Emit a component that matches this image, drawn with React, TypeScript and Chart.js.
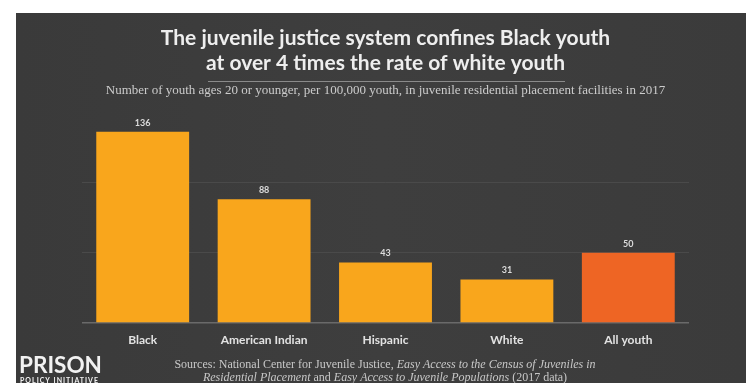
import React, { useEffect, useRef } from "react";
import { Chart, registerables } from "chart.js";

Chart.register(...registerables);

const categories = ["Black", "American Indian", "Hispanic", "White", "All youth"];
const rates = [136, 88, 43, 31, 50];
const barColors = ["#F9A61C", "#F9A61C", "#F9A61C", "#F9A61C", "#EE6524"];
const gridValues = [0, 50, 100];
const titleLines = [
  "The juvenile justice system confines Black youth",
  "at over 4 times the rate of white youth",
];
const subtitleText =
  "Number of youth ages 20 or younger, per 100,000 youth, in juvenile residential placement facilities in 2017";
const sourceLine1 = [
  { t: "Sources: National Center for Juvenile Justice, ", i: false },
  { t: "Easy Access to the Census of Juveniles in", i: true },
];
const sourceLine2 = [
  { t: "Residential Placement", i: true },
  { t: " and ", i: false },
  { t: "Easy Access to Juvenile Populations", i: true },
  { t: " (2017 data)", i: false },
];
const logoMain = "PRISON";
const logoSub = "POLICY INITIATIVE";

const SANS = "Lato, 'DejaVu Sans', sans-serif";
const SERIF = "'Liberation Serif', 'DejaVu Serif', serif";

const backgroundPlugin = {
  id: "bgPanel",
  beforeDraw(chart: any) {
    const { ctx, width, height } = chart;
    ctx.save();
    ctx.fillStyle = "#ffffff";
    ctx.fillRect(0, 0, width, height);
    const g = ctx.createLinearGradient(16, 0, width, 0);
    g.addColorStop(0, "#3a3a3a");
    g.addColorStop(0.5, "#3e3e3e");
    g.addColorStop(1, "#3b3b3b");
    ctx.fillStyle = g;
    ctx.fillRect(16, 13, width - 16, height - 13);
    ctx.restore();
  },
};

const valueLabelPlugin = {
  id: "valueLabels",
  afterDatasetsDraw(chart: any) {
    const { ctx } = chart;
    const meta = chart.getDatasetMeta(0);
    ctx.save();
    ctx.fillStyle = "#dcdcdc";
    ctx.font = `bold 9px ${SANS}`;
    ctx.textAlign = "center";
    ctx.textBaseline = "middle";
    meta.data.forEach((bar: any, idx: number) => {
      ctx.fillText(String(rates[idx]), bar.x, bar.y - 9);
    });
    ctx.restore();
  },
};

const decorPlugin = {
  id: "decor",
  afterDraw(chart: any) {
    const { ctx } = chart;
    ctx.save();
    // rule under title
    ctx.strokeStyle = "#8a8a8a";
    ctx.lineWidth = 1;
    ctx.beginPath();
    ctx.moveTo(208, 81.5);
    ctx.lineTo(565, 81.5);
    ctx.stroke();

    // sources
    const drawLine = (parts: { t: string; i: boolean }[], cx: number, y: number) => {
      const fontFor = (it: boolean) => `${it ? "italic " : ""}12px ${SERIF}`;
      let total = 0;
      parts.forEach((p) => {
        ctx.font = fontFor(p.i);
        total += ctx.measureText(p.t).width;
      });
      let x = cx - total / 2;
      ctx.textAlign = "left";
      ctx.textBaseline = "middle";
      ctx.fillStyle = "#c8c8c8";
      parts.forEach((p) => {
        ctx.font = fontFor(p.i);
        ctx.fillText(p.t, x, y);
        x += ctx.measureText(p.t).width;
      });
    };
    drawLine(sourceLine1, 385, 365);
    drawLine(sourceLine2, 385, 378);

    // logo
    ctx.fillStyle = "#f2f2f2";
    ctx.textAlign = "left";
    ctx.textBaseline = "alphabetic";
    ctx.font = `bold 22.5px ${SANS}`;
    ctx.fillText(logoMain, 19, 373);
    ctx.font = `bold 7px ${SANS}`;
    (ctx as any).letterSpacing = "1px";
    ctx.fillText(logoSub, 20, 383);
    ctx.restore();
  },
};

export default function App() {
  const canvasRef = useRef<HTMLCanvasElement | null>(null);

  useEffect(() => {
    document.body.style.margin = "0";
    const canvas = canvasRef.current;
    if (!canvas) return;
    const chart = new Chart(canvas, {
      type: "bar",
      data: {
        labels: categories,
        datasets: [
          {
            data: rates,
            backgroundColor: barColors,
            borderWidth: 0,
            barPercentage: 0.765,
            categoryPercentage: 1,
          },
        ],
      },
      options: {
        responsive: false,
        maintainAspectRatio: false,
        animation: false,
        devicePixelRatio: 1,
        layout: { padding: { top: 13, left: 82, right: 57, bottom: 25.6 } },
        plugins: {
          legend: { display: false },
          tooltip: { enabled: false },
          title: {
            display: true,
            text: titleLines,
            color: "#eeeeee",
            font: { family: SANS, size: 21, weight: "bold", lineHeight: 1.2 },
            padding: { top: 12.4, bottom: 7.4 },
          },
          subtitle: {
            display: true,
            text: subtitleText,
            color: "#cccccc",
            font: { family: SERIF, size: 13, lineHeight: 1.2 },
            padding: { top: 0, bottom: 13.2 },
          },
        },
        scales: {
          x: {
            grid: { display: false, drawTicks: false },
            border: { display: false },
            ticks: {
              color: "#e2e2e2",
              font: { family: SANS, size: 12, weight: "bold" },
              padding: 10,
              maxRotation: 0,
              autoSkip: false,
            },
          },
          y: {
            min: 0,
            max: 150,
            afterBuildTicks(scale: any) {
              scale.ticks = gridValues.map((v) => ({ value: v }));
            },
            grid: {
              drawTicks: false,
              color: (c: any) => (c.tick && c.tick.value === 0 ? "#6a6a6a" : "#4a4a4a"),
              lineWidth: (c: any) => (c.tick && c.tick.value === 0 ? 1.5 : 1),
            },
            border: { display: false },
            ticks: { display: false },
          },
        },
      },
      plugins: [backgroundPlugin, valueLabelPlugin, decorPlugin],
    });
    return () => chart.destroy();
  }, []);

  return (
    <div style={{ position: "absolute", left: 0, top: 0, width: 746, height: 383 }}>
      <canvas ref={canvasRef} width={746} height={383} />
    </div>
  );
}
